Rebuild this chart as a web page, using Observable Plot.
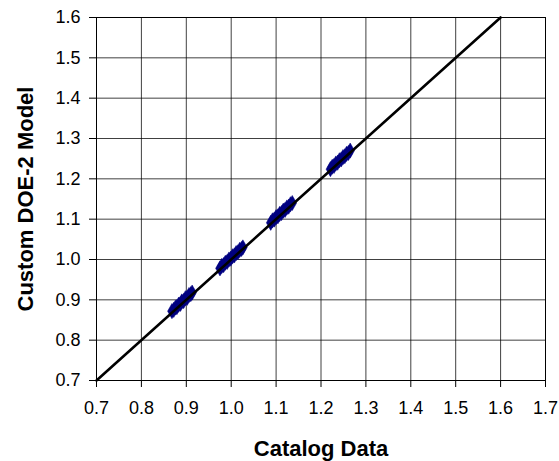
<!DOCTYPE html>
<html>
<head>
<meta charset="utf-8">
<script src="https://cdn.jsdelivr.net/npm/d3@7"></script>
<script src="https://cdn.jsdelivr.net/npm/@observablehq/plot@0.6"></script>
<style>
  html, body { margin: 0; padding: 0; background: #fff; }
  #chart svg { display: block; }
</style>
</head>
<body>
<div id="chart"></div>
<script>
// Catalog (x) vs Custom DOE-2 model (y), four clusters
const catalog = [
  0.868,0.872,0.876,0.879,0.883,0.887,0.890,0.894,0.898,0.902,0.906,0.910,0.913,
  0.975,0.979,0.983,0.987,0.991,0.995,0.999,1.003,1.007,1.011,1.015,1.019,1.023,1.026,
  1.088,1.092,1.096,1.100,1.104,1.108,1.112,1.116,1.120,1.124,1.128,1.132,1.136,
  1.221,1.225,1.229,1.233,1.237,1.241,1.245,1.249,1.253,1.257,1.261,1.265
];
const model = [
  0.872,0.875,0.881,0.882,0.888,0.890,0.896,0.897,0.904,0.905,0.912,0.914,0.918,
  0.978,0.984,0.986,0.992,0.994,1.000,1.002,1.008,1.010,1.016,1.018,1.024,1.026,1.030,
  1.091,1.097,1.099,1.105,1.107,1.113,1.115,1.121,1.123,1.129,1.131,1.137,1.140,
  1.224,1.230,1.232,1.238,1.240,1.246,1.248,1.254,1.256,1.262,1.264,1.270
];
const diagonal = [0.7, 1.6];
const xTicks = [0.7,0.8,0.9,1.0,1.1,1.2,1.3,1.4,1.5,1.6,1.7];
const yTicks = [0.7,0.8,0.9,1.0,1.1,1.2,1.3,1.4,1.5,1.6];

const points = catalog.map((c, i) => ({catalog: c, model: model[i]}));
const fmt = d3.format(".1f");

const chart = Plot.plot({
  width: 559,
  height: 461,
  marginLeft: 96,
  marginRight: 14,
  marginTop: 17,
  marginBottom: 81,
  style: {fontFamily: "'Liberation Sans', Arial, sans-serif", background: "#fff", color: "#000"},
  x: {domain: [0.7, 1.7], ticks: xTicks, tickFormat: fmt, label: null},
  y: {domain: [0.7, 1.6], ticks: yTicks, tickFormat: fmt, label: null},
  marks: [
    Plot.gridX(xTicks, {stroke: "#000", strokeOpacity: 0.75, strokeWidth: 1}),
    Plot.gridY(yTicks, {stroke: "#000", strokeOpacity: 0.75, strokeWidth: 1}),
    Plot.frame({stroke: "#000", strokeWidth: 1}),
    Plot.axisX(xTicks, {tickSize: 7, tickPadding: 14, fontSize: 18, tickFormat: fmt, label: null, stroke: "#000"}),
    Plot.axisY(yTicks, {tickSize: 7, tickPadding: 9, fontSize: 18, tickFormat: fmt, label: null, stroke: "#000"}),
    Plot.dot(points, {x: "catalog", y: "model", symbol: "diamond", r: 4.6, fill: "#000080", stroke: "#000080", strokeWidth: 0.5}),
    Plot.line(diagonal.map(v => ({x: v, y: v})), {x: "x", y: "y", stroke: "#000", strokeWidth: 2.6}),
    Plot.text(["Catalog Data"], {frameAnchor: "bottom", lineAnchor: "middle", textAnchor: "middle", dy: 68, fontSize: 22, fontWeight: "bold", fill: "#000"}),
    Plot.text(["Custom DOE-2 Model"], {frameAnchor: "left", textAnchor: "middle", lineAnchor: "middle", dx: -71, rotate: -90, fontSize: 22, fontWeight: "bold", fill: "#000"})
  ]
});
document.getElementById("chart").appendChild(chart);
</script>
</body>
</html>
